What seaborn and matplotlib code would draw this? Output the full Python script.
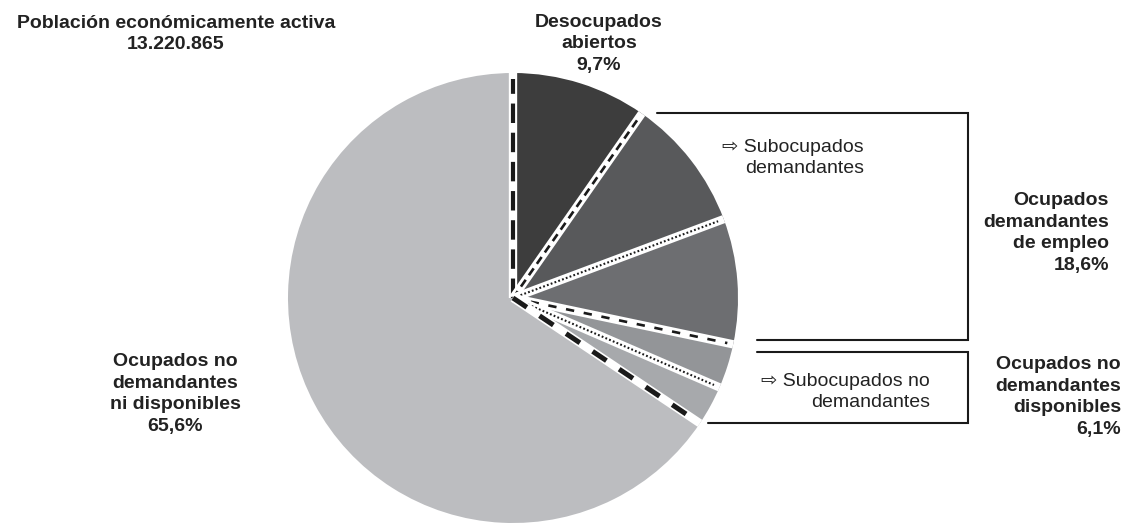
import numpy as np
import seaborn as sns
import matplotlib.pyplot as plt

# slices, clockwise from 12 o'clock
slice_names = ["Desocupados abiertos", "Subocupados demandantes", "Otros demandantes",
               "Subocupados no demandantes", "Otros disponibles", "No demandantes ni disponibles"]
slice_pct = [9.7, 9.6, 9.0, 3.2, 2.9, 65.6]
slice_colors = ["#3d3d3d", "#58595b", "#6d6e71", "#939598", "#a7a9ac", "#bcbdc0"]
# line style of the separator at the start of each slice
sep_styles = ["thick", "dash", "dot", "dash2", "dot", "thick2"]

W, H = 1123, 524
cx, cy, R = 513, 298, 225

sns.set_theme(style="white")
plt.rcParams["font.family"] = ["Liberation Sans", "DejaVu Sans"]
plt.rcParams["lines.scale_dashes"] = False

fig = plt.figure(figsize=(W / 100, H / 100), dpi=100)
ax = fig.add_axes([0, 0, 1, 1])

ax.pie(slice_pct, colors=slice_colors, startangle=90, counterclock=False,
       center=(cx, H - cy), radius=R, frame=True, wedgeprops=dict(linewidth=0))

# separators: white gap with a black dashed / dotted line on it
angles = 90 - 3.6 * np.concatenate([[0], np.cumsum(slice_pct)[:-1]])
styles = {
    "thick": dict(lw=3.0, dashes=(14, 7)),
    "thick2": dict(lw=3.6, dashes=(12, 11)),
    "dash": dict(lw=1.9, dashes=(6, 4)),
    "dash2": dict(lw=1.9, dashes=(6, 7)),
    "dot": dict(lw=1.5, dashes=(1.3, 1.6)),
}
for a, st in zip(angles, sep_styles):
    t = np.deg2rad(a)
    xe, ye = cx + R * np.cos(t), H - cy + R * np.sin(t)
    ax.plot([cx, xe], [H - cy, ye], color="white", lw=6, solid_capstyle="butt")
    re = R - 6
    ax.plot([cx, cx + re * np.cos(t)], [H - cy, H - cy + re * np.sin(t)],
            color="#1a1a1a", dash_capstyle="butt", **styles[st])

# brackets
def pline(xs, ys):
    ax.plot(xs, [H - y for y in ys], color="#1a1a1a", lw=1.5, solid_joinstyle="miter")

pline([657, 968, 968, 757], [113, 113, 340, 340])
pline([757, 968, 968, 708], [352, 352, 423, 423])

def label(x, y, s, ha="center", bold=True):
    ax.text(x, H - y, s, ha=ha, va="center", fontsize=14, linespacing=1.35,
            fontweight="bold" if bold else "normal", color="#222222")

label(176, 34, "Población económicamente activa\n13.220.865")
label(599, 44, "Desocupados\nabiertos\n9,7%")
label(1109, 233, "Ocupados\ndemandantes\nde empleo\n18,6%", ha="right")
label(1121, 397, "Ocupados no\ndemandantes\ndisponibles\n6,1%", ha="right")
label(175, 394, "Ocupados no\ndemandantes\nni disponibles\n65,6%")
label(864, 158, "\u21e8 Subocupados\ndemandantes", ha="right", bold=False)
label(930, 392, "\u21e8 Subocupados no\ndemandantes", ha="right", bold=False)

ax.set_xlim(0, W)
ax.set_ylim(0, H)
ax.set_aspect("equal")
ax.axis("off")

fig.savefig("out.png", dpi=100)
